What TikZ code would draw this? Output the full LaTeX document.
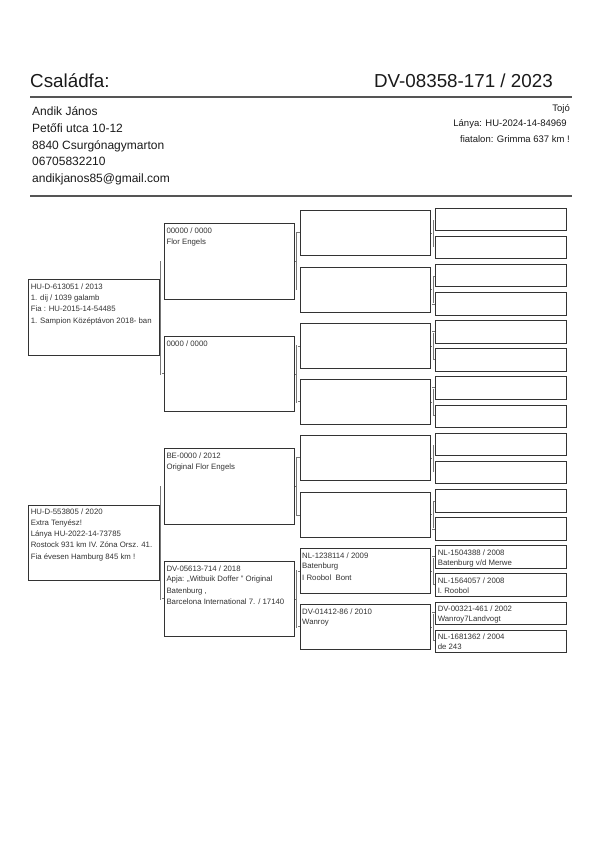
\documentclass[tikz,border=0pt]{standalone}
\usepackage{fontspec}
\setmainfont{Liberation Sans}
\usetikzlibrary{calc}
\definecolor{boxc}{HTML}{333333}
\definecolor{txtc}{HTML}{333333}
\definecolor{headc}{HTML}{1A1A1A}
\definecolor{rulec}{HTML}{555555}
\definecolor{connc}{HTML}{777777}
\newcommand{\pedtext}[1]{\parbox[t]{200pt}{\raggedright #1}}
\begin{document}
\begin{tikzpicture}[x=1pt,y=-1pt,
  box/.style={draw=boxc, line width=0.9pt, rectangle, inner sep=0pt, anchor=north west, minimum width=130.4pt},
  txt/.style={anchor=base west, inner sep=0pt, text=txtc, font=\fontsize{7.8}{10.5}\selectfont},
  conn/.style={draw=connc, line width=0.5pt, double=white, double distance=0.8pt},
  hrule/.style={draw=rulec, line width=1.1pt},
  title/.style={inner sep=0pt, text=headc, font=\fontsize{18.8}{22}\selectfont},
  addr/.style={anchor=base west, inner sep=0pt, text=headc, font=\fontsize{12}{14}\selectfont},
  side/.style={anchor=base east, inner sep=0pt, text=headc, font=\fontsize{9.5}{11}\selectfont}
  ]
\useasboundingbox (0,0) rectangle (600,848);
\fill[white] (0,0) rectangle (600,848);

% header
\node[title, anchor=base west] (ttl) at (30,88) {Családfa:};
\node[title, anchor=base east] (ring) at (553,88) {DV-08358-171 / 2023};
\coordinate (r1a) at (30,97); \coordinate (r1b) at (572,97);
\draw[hrule] (r1a) -- (r1b);
\node[addr] (a1) at (32,115.7) {Andik János};
\node[addr] (a2) at (32,132.4) {Petőfi utca 10-12};
\node[addr] (a3) at (32,149.1) {8840 Csurgónagymarton};
\node[addr] (a4) at (32,165.8) {06705832210};
\node[addr] (a5) at (32,182.5) {andikjanos85@gmail.com};
\node[side] (s1) at (570,112) {Tojó};
\node[side] (s2) at (567,127) {Lánya: HU-2024-14-84969};
\node[side] (s3) at (570,142.5) {fiatalon: Grimma 637 km !};
\coordinate (r2a) at (30,196); \coordinate (r2b) at (572,196);
\draw[hrule] (r2a) -- (r2b);

% boxes
\foreach \k in {0,1}
  \node[box, minimum height=75.7pt] (a\k) at (28.3, {279.3+\k*225.4}) {};
\foreach \k in {0,...,3}
  \node[box, minimum height=75.3pt] (b\k) at (164, {223.3+\k*112.55}) {};
\foreach \k in {0,...,7}
  \node[box, minimum height=45pt] (c\k) at (299.7, {210.3+\k*56.27}) {};
\foreach \k in {0,...,15}
  \node[box, minimum height=22.5pt] (d\k) at (435.3, {207.7+\k*28.13}) {};

% connectors (brackets)
\foreach \pp/\uu/\ww in {a0/b0/b1, a1/b2/b3,
                      b0/c0/c1, b1/c2/c3, b2/c4/c5, b3/c6/c7,
                      c0/d0/d1, c1/d2/d3, c2/d4/d5, c3/d6/d7,
                      c4/d8/d9, c5/d10/d11, c6/d12/d13, c7/d14/d15}{
  \coordinate (ju) at ([xshift=-2.7pt]\uu.west);
  \coordinate (jl) at ([xshift=-2.7pt]\ww.west);
  \coordinate (jm) at ($(ju)!0.5!(jl)$);
  \draw[connc, line width=0.6pt] (\pp.east |- jm) -- (jm);
  \draw[conn] (\uu.west) -- (ju) -- (jl) -- (\ww.west);
}

% texts
\node[txt] (ta0) at ([shift={(2.3,10.2)}]a0.north west) {\pedtext{HU-D-613051 / 2013\\
1. dij / 1039 galamb\\[1pt]
Fia : HU-2015-14-54485\\[1pt]
1. Sampion Középtávon 2018- ban}};
\node[txt] (ta1) at ([shift={(2.3,10.2)}]a1.north west) {\pedtext{HU-D-553805 / 2020\\
Extra Tenyész!\\[0.6pt]
Lánya HU-2022-14-73785\\[0.8pt]
Rostock 931 km IV. Zóna Orsz. 41.\\[1.5pt]
Fia évesen Hamburg 845 km !}};
\node[txt] (tb0) at ([shift={(2.3,10.2)}]b0.north west) {\pedtext{00000 / 0000\\
Flor Engels}};
\node[txt] (tb1) at ([shift={(2.3,10.2)}]b1.north west) {\pedtext{0000 / 0000}};
\node[txt] (tb2) at ([shift={(2.3,10.2)}]b2.north west) {\pedtext{BE-0000 / 2012\\
Original Flor Engels}};
\node[txt] (tb3) at ([shift={(2.3,10.2)}]b3.north west) {\pedtext{DV-05613-714 / 2018\\
Apja: ,,Witbuik Doffer " Original\\[1.2pt]
Batenburg ,\\[1pt]
Barcelona International 7. / 17140}};
\node[txt] (tc6) at ([shift={(2.3,10.2)}]c6.north west) {\pedtext{NL-1238114 / 2009\\
Batenburg\\[1.8pt]
I Roobol\ \ Bont}};
\node[txt] (tc7) at ([shift={(2.3,10.2)}]c7.north west) {\pedtext{DV-01412-86 / 2010\\
Wanroy}};
\node[txt] (td12) at ([shift={(2.3,10.2)}]d12.north west) {\pedtext{NL-1504388 / 2008\\[-0.4pt]
Batenburg v/d Merwe}};
\node[txt] (td13) at ([shift={(2.3,10.2)}]d13.north west) {\pedtext{NL-1564057 / 2008\\[-0.4pt]
I. Roobol}};
\node[txt] (td14) at ([shift={(2.3,10.2)}]d14.north west) {\pedtext{DV-00321-461 / 2002\\[-0.4pt]
Wanroy7Landvogt}};
\node[txt] (td15) at ([shift={(2.3,10.2)}]d15.north west) {\pedtext{NL-1681362 / 2004\\[-0.4pt]
de 243}};
\end{tikzpicture}
\end{document}
